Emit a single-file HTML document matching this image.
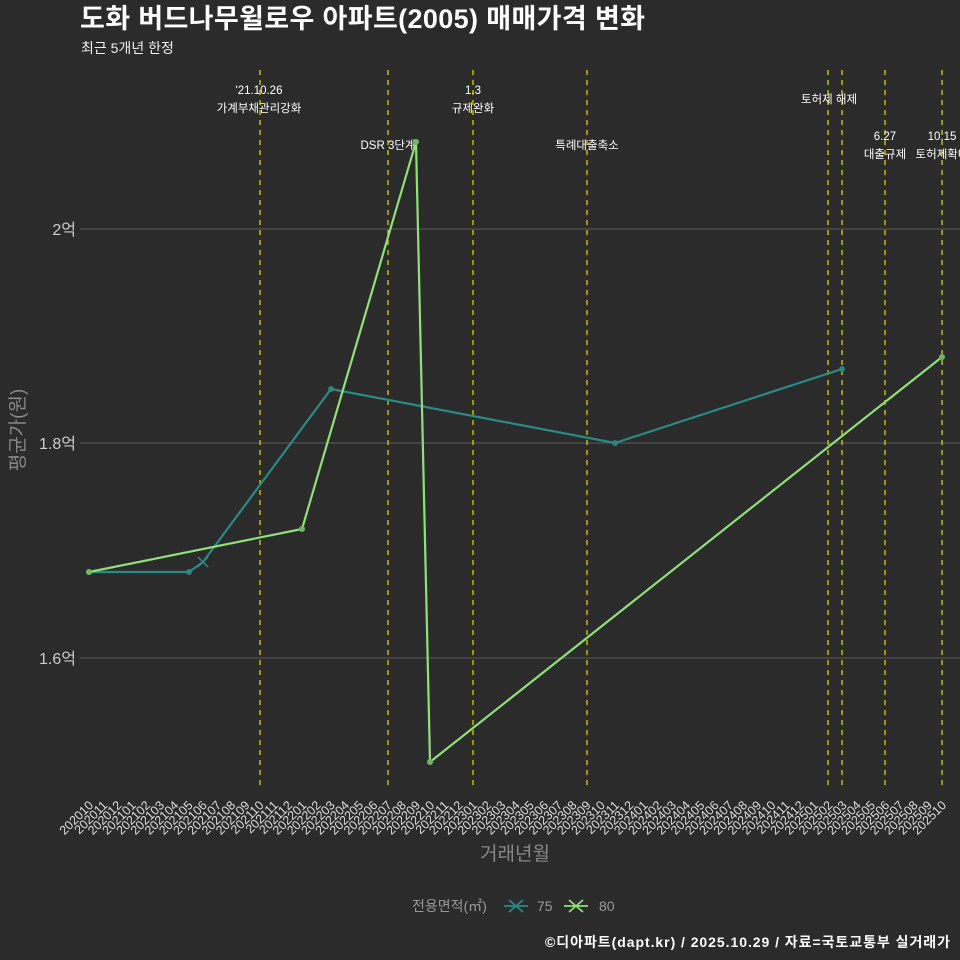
<!DOCTYPE html>
<html><head><meta charset="utf-8"><style>
body{margin:0;background:#2b2b2b;}
svg{display:block;font-family:"Liberation Sans","Noto Sans CJK KR",sans-serif;}
</style></head><body>
<svg width="960" height="960" viewBox="0 0 960 960">
<rect width="960" height="960" fill="#2b2b2b"/>
<text x="80" y="28" fill="#fff" font-size="27" font-weight="bold" textLength="565">도화 버드나무윌로우 아파트(2005) 매매가격 변화</text>
<text x="81" y="53" fill="#eee" font-size="14">최근 5개년 한정</text>
<g stroke="#5a5a5a" stroke-width="1">
<line x1="80" x2="960" y1="229" y2="229"/><line x1="80" x2="960" y1="443" y2="443"/><line x1="80" x2="960" y1="658" y2="658"/>
</g>
<g fill="#ccc" font-size="16" text-anchor="end">
<text x="76" y="235">2억</text><text x="76" y="449">1.8억</text><text x="76" y="664">1.6억</text>
</g>
<text transform="translate(24,430) rotate(-90)" fill="#888" font-size="19" text-anchor="middle">평균가(원)</text>
<g stroke="#d4d400" stroke-width="1.3" stroke-dasharray="5,5">
<line x1="260" x2="260" y1="70" y2="790"/><line x1="388" x2="388" y1="70" y2="790"/><line x1="473" x2="473" y1="70" y2="790"/><line x1="587" x2="587" y1="70" y2="790"/><line x1="828" x2="828" y1="70" y2="790"/><line x1="842" x2="842" y1="70" y2="790"/><line x1="885" x2="885" y1="70" y2="790"/><line x1="942" x2="942" y1="70" y2="790"/>
</g>
<g fill="#fff" font-size="11.5" text-anchor="middle">
<text x="259" y="94">'21.10.26</text><text x="259" y="112">가계부채관리강화</text>
<text x="473" y="94">1.3</text><text x="473" y="112">규제완화</text>
<text x="388" y="149">DSR 3단계</text>
<text x="587" y="149">특례대출축소</text>
<text x="829" y="103">토허제 해제</text>
<text x="885" y="140">6.27</text><text x="885" y="158">대출규제</text>
<text x="942" y="140">10.15</text><text x="942" y="158">토허제확대</text>
</g>
<polyline fill="none" stroke="#2a8a86" stroke-width="2.2" points="89,572 189,572 203,562 331,389 615,443 842,369"/>
<g fill="#2a8a86" opacity="0.9"><circle cx="89" cy="572" r="3"/><circle cx="189" cy="572" r="3"/><circle cx="331" cy="389" r="3"/><circle cx="615" cy="443" r="3"/><circle cx="842" cy="369" r="3"/></g>
<path d="M198,557 L208,567 M208,557 L198,567" stroke="#2a8a86" stroke-width="1.5"/>
<polyline fill="none" stroke="#90e07a" stroke-width="2.2" points="89,572 302,529 416,142 430,762 942,357"/>
<g fill="#6fb862"><circle cx="89" cy="572" r="3"/><circle cx="302" cy="529" r="3"/><circle cx="416" cy="142" r="3"/><circle cx="430" cy="762" r="3"/><circle cx="942" cy="357" r="3"/></g>
<g fill="#ddd" font-size="12.5" text-anchor="end">
<text transform="translate(94,806) rotate(-45)">202010</text>
<text transform="translate(108.2,806) rotate(-45)">202011</text>
<text transform="translate(122.4,806) rotate(-45)">202012</text>
<text transform="translate(136.7,806) rotate(-45)">202101</text>
<text transform="translate(150.9,806) rotate(-45)">202102</text>
<text transform="translate(165.1,806) rotate(-45)">202103</text>
<text transform="translate(179.3,806) rotate(-45)">202104</text>
<text transform="translate(193.5,806) rotate(-45)">202105</text>
<text transform="translate(207.7,806) rotate(-45)">202106</text>
<text transform="translate(222,806) rotate(-45)">202107</text>
<text transform="translate(236.2,806) rotate(-45)">202108</text>
<text transform="translate(250.4,806) rotate(-45)">202109</text>
<text transform="translate(264.6,806) rotate(-45)">202110</text>
<text transform="translate(278.8,806) rotate(-45)">202111</text>
<text transform="translate(293,806) rotate(-45)">202112</text>
<text transform="translate(307.3,806) rotate(-45)">202201</text>
<text transform="translate(321.5,806) rotate(-45)">202202</text>
<text transform="translate(335.7,806) rotate(-45)">202203</text>
<text transform="translate(349.9,806) rotate(-45)">202204</text>
<text transform="translate(364.1,806) rotate(-45)">202205</text>
<text transform="translate(378.3,806) rotate(-45)">202206</text>
<text transform="translate(392.6,806) rotate(-45)">202207</text>
<text transform="translate(406.8,806) rotate(-45)">202208</text>
<text transform="translate(421,806) rotate(-45)">202209</text>
<text transform="translate(435.2,806) rotate(-45)">202210</text>
<text transform="translate(449.4,806) rotate(-45)">202211</text>
<text transform="translate(463.6,806) rotate(-45)">202212</text>
<text transform="translate(477.9,806) rotate(-45)">202301</text>
<text transform="translate(492.1,806) rotate(-45)">202302</text>
<text transform="translate(506.3,806) rotate(-45)">202303</text>
<text transform="translate(520.5,806) rotate(-45)">202304</text>
<text transform="translate(534.7,806) rotate(-45)">202305</text>
<text transform="translate(549,806) rotate(-45)">202306</text>
<text transform="translate(563.2,806) rotate(-45)">202307</text>
<text transform="translate(577.4,806) rotate(-45)">202308</text>
<text transform="translate(591.6,806) rotate(-45)">202309</text>
<text transform="translate(605.8,806) rotate(-45)">202310</text>
<text transform="translate(620,806) rotate(-45)">202311</text>
<text transform="translate(634.3,806) rotate(-45)">202312</text>
<text transform="translate(648.5,806) rotate(-45)">202401</text>
<text transform="translate(662.7,806) rotate(-45)">202402</text>
<text transform="translate(676.9,806) rotate(-45)">202403</text>
<text transform="translate(691.1,806) rotate(-45)">202404</text>
<text transform="translate(705.3,806) rotate(-45)">202405</text>
<text transform="translate(719.6,806) rotate(-45)">202406</text>
<text transform="translate(733.8,806) rotate(-45)">202407</text>
<text transform="translate(748,806) rotate(-45)">202408</text>
<text transform="translate(762.2,806) rotate(-45)">202409</text>
<text transform="translate(776.4,806) rotate(-45)">202410</text>
<text transform="translate(790.6,806) rotate(-45)">202411</text>
<text transform="translate(804.9,806) rotate(-45)">202412</text>
<text transform="translate(819.1,806) rotate(-45)">202501</text>
<text transform="translate(833.3,806) rotate(-45)">202502</text>
<text transform="translate(847.5,806) rotate(-45)">202503</text>
<text transform="translate(861.7,806) rotate(-45)">202504</text>
<text transform="translate(875.9,806) rotate(-45)">202505</text>
<text transform="translate(890.2,806) rotate(-45)">202506</text>
<text transform="translate(904.4,806) rotate(-45)">202507</text>
<text transform="translate(918.6,806) rotate(-45)">202508</text>
<text transform="translate(932.8,806) rotate(-45)">202509</text>
<text transform="translate(947,806) rotate(-45)">202510</text>
</g>
<text x="515" y="860" fill="#888" font-size="19" text-anchor="middle">거래년월</text>
<text x="412" y="911" fill="#999" font-size="14">전용면적(㎡)</text>
<path d="M504,906 H528 M509,900 L523,912 M523,900 L509,912" stroke="#2a8a86" stroke-width="1.8"/>
<text x="537" y="911" fill="#999" font-size="14">75</text>
<path d="M564,906 H588 M569,900 L583,912 M583,900 L569,912" stroke="#90e07a" stroke-width="1.8"/>
<text x="599" y="911" fill="#999" font-size="14">80</text>
<text x="545" y="947" fill="#fff" font-size="14" font-weight="bold" textLength="405">©디아파트(dapt.kr) / 2025.10.29 / 자료=국토교통부 실거래가</text>
</svg>
</body></html>
